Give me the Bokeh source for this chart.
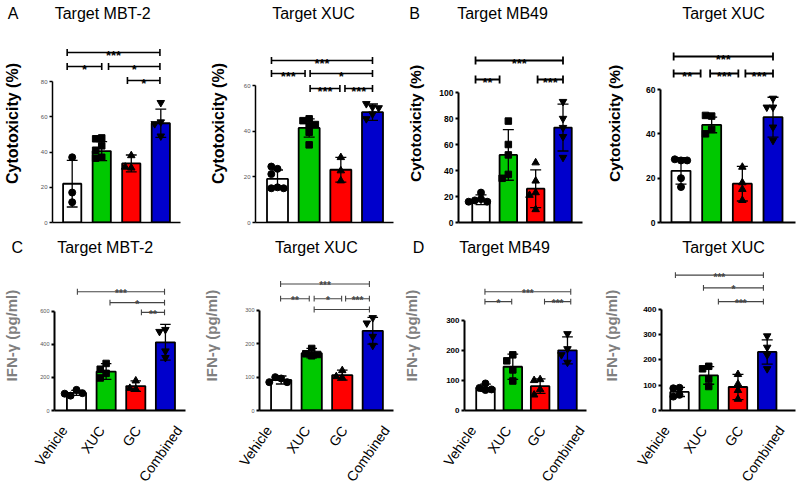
import math
from bokeh.plotting import figure
from bokeh.layouts import column, row
from bokeh.models import Range1d, FixedTicker, Label
from bokeh.embed import file_html
from bokeh.resources import INLINE
from bokeh.core.properties import value

FONT = "Liberation Sans"

groups = ["Vehicle", "XUC", "GC", "Combined"]
bar_colors = ["#ffffff", "#00c800", "#ff0000", "#0000cc"]
markers = ["circle", "square", "triangle", "inverted_triangle"]

# ---------------- data ----------------
# A  Cytotoxicity (%), target MBT-2
a1_mean = [22.0, 40.5, 33.5, 56.3]
a1_sd = [13.2, 5.4, 4.8, 8.0]
a1_pts = [[37, 17, 11.5], [48, 47.5, 43.5, 41, 37, 36.5], [38, 31, 31.5], [68, 57, 56, 49]]
a1_ticks = [0, 20, 40, 60, 80]
# A  Cytotoxicity (%), target XUC
a2_mean = [19.1, 41.4, 23.1, 48.3]
a2_sd = [3.9, 4.0, 5.4, 3.6]
a2_pts = [[23.5, 24.5, 21.2, 15.4, 15, 15], [45.4, 44.6, 42.9, 42.4, 39.5, 34],
          [28.5, 18.3, 22.7], [50.5, 52, 50.2, 47.5, 45.4]]
a2_ticks = [0, 20, 40, 60]
# B  Cytotoxicity (%), target MB49
b1_mean = [17.5, 52.0, 26.0, 73.0]
b1_sd = [3.8, 19.5, 14.5, 18.0]
b1_pts = [[23, 18, 17, 16, 16], [78, 60, 52, 37, 34], [46, 32, 23, 21, 10], [93, 80, 73, 66, 50]]
b1_ticks = [0, 20, 40, 60, 80, 100]
# B  Cytotoxicity (%), target XUC
b2_mean = [23.3, 44.0, 17.5, 47.5]
b2_sd = [6.0, 3.5, 7.8, 9.0]
b2_pts = [[28, 28.5, 28, 20, 16], [48, 48.3, 42, 40], [25, 18, 15, 10], [56, 52, 52, 43, 37]]
b2_ticks = [0, 20, 40, 60]
# C  IFN-γ (pg/ml), target MBT-2
c1_mean = [107, 236, 148, 413]
c1_sd = [15, 48, 32, 108]
c1_pts = [[125, 90, 105, 102], [285, 250, 225, 197], [180, 130, 135], [490, 478, 360, 320]]
c1_ticks = [0, 200, 400, 600]
# C  IFN-γ (pg/ml), target XUC
c2_mean = [91.5, 172, 106, 239]
c2_sd = [12, 14, 15, 40]
c2_pts = [[96, 100, 85, 85], [186, 170, 168, 164], [120, 102, 98], [278, 262, 222, 195]]
c2_ticks = [0, 100, 200, 300]
# D  IFN-γ (pg/ml), target MB49
d1_mean = [75.5, 145.5, 81, 200]
d1_sd = [12, 42, 24, 45]
d1_pts = [[90, 75, 70, 68], [185, 165, 135, 98], [103, 100, 70, 52], [255, 205, 185, 160]]
d1_ticks = [0, 100, 200, 300]
# D  IFN-γ (pg/ml), target XUC
d2_mean = [73.5, 139, 93, 232]
d2_sd = [18, 35, 50, 48]
d2_pts = [[90, 88, 62, 55], [175, 165, 125, 95], [143, 105, 80, 45], [295, 250, 220, 165]]
d2_ticks = [0, 100, 200, 300, 400]

# significance comparisons: (from, to, row, label)  -- from/to in group-position units
a1_sig = [(0.83, 3.97, 0, "***"), (0.83, 2.0, 1, "*"), (2.23, 3.97, 1, "*"), (2.87, 3.97, 2, "*")]
a2_sig = [(0.81, 4.0, 0, "***"), (0.81, 1.87, 1, "***"), (2.03, 4.0, 1, "*"),
          (2.03, 2.97, 2, "***"), (3.13, 4.0, 2, "***")]
b1_sig = [(0.80, 4.0, 0, "***"), (0.80, 1.68, 1, "**"), (3.07, 4.0, 1, "***")]
b2_sig = [(0.76, 4.0, 0, "***"), (0.76, 1.64, 1, "**"), (1.95, 2.87, 1, "***"), (3.10, 4.0, 1, "***")]
c1_sig = [(1.03, 3.97, 0, "***"), (2.13, 3.97, 1, "*"), (3.19, 3.97, 2, "**")]
c2_sig = [(0.98, 3.89, 0, "***"), (0.98, 1.92, 1, "**"), (2.08, 2.98, 1, "*"),
          (3.11, 3.89, 1, "***"), (2.08, 3.89, 2, "")]
d1_sig = [(0.98, 4.12, 0, "***"), (0.98, 1.96, 1, "*"), (3.16, 4.12, 1, "***")]
d2_sig = [(0.86, 3.87, 0, "***"), (1.82, 3.87, 1, "*"), (2.33, 3.87, 2, "***")]

# ---------------- layout (pixel geometry, page coordinates) ----------------
W = 200
TOP_H, BOT_H = 232, 259
HEAD = 24  # room above each plot frame for the heading
LABEL_SHIFT_PX = [-13, -5, 2, 14]  # where the slanted category names sit relative to bar centres
LABEL_ANGLE = 0.96
geo = {
    "a1": dict(left=0, top=0, h=TOP_H, ax=50, xe=180, c1=70, c4=160, zy=222, ty=81, bw=18.5, tx=101, tyy=13, lx=10, rows=[52, 66, 80]),
    "a2": dict(left=200, top=0, h=TOP_H, ax=255, xe=393, c1=277, c4=372, zy=222, ty=85, bw=21, tx=313, tyy=13, lx=None, rows=[60, 73, 88]),
    "b1": dict(left=400, top=0, h=TOP_H, ax=458, xe=582, c1=480.5, c4=562.5, zy=222, ty=92, bw=17.5, tx=502, tyy=13, lx=414, rows=[60, 79]),
    "b2": dict(left=600, top=0, h=TOP_H, ax=660, xe=795, c1=680.5, c4=772.5, zy=222, ty=89, bw=19, tx=723, tyy=13, lx=None, rows=[56, 73]),
    "c1": dict(left=0, top=232, h=BOT_H, ax=48, xe=185, c1=71, c4=164, zy=413, ty=312, bw=20, tx=101, tyy=247, lx=9, rows=[292, 303, 313]),
    "c2": dict(left=200, top=232, h=BOT_H, ax=254, xe=393, c1=276.5, c4=371.5, zy=413, ty=311, bw=21, tx=313, tyy=247, lx=None, rows=[284, 299, 310]),
    "d1": dict(left=400, top=232, h=BOT_H, ax=461, xe=586, c1=482.5, c4=566.5, zy=413, ty=321, bw=19, tx=502, tyy=247, lx=414, rows=[292, 302]),
    "d2": dict(left=600, top=232, h=BOT_H, ax=661, xe=795, c1=679, c4=766.7, zy=413, ty=310, bw=18.5, tx=723, tyy=247, lx=None, rows=[275, 288, 302]),
}

style_A = dict(tick_size="6px", tick_color="#555555", tick_bold=False, ylab_size="16px", ylab_color="black",
               axis_lw=1.5, br_lw=1.6, br_color="black", br_cap=3.5, br_font="13px", br_off=3)
style_B = dict(tick_size="8.5px", tick_color="black", tick_bold=True, ylab_size="15.5px", ylab_color="black",
               axis_lw=2, br_lw=1.8, br_color="black", br_cap=4, br_font="13px", br_off=3)
style_C = dict(tick_size="5.5px", tick_color="#555555", tick_bold=False, ylab_size="15px", ylab_color="#7f7f7f",
               axis_lw=2, br_lw=1.1, br_color="#444444", br_cap=3, br_font="10px", br_off=2)
style_D = dict(tick_size="8px", tick_color="black", tick_bold=True, ylab_size="15px", ylab_color="#7f7f7f",
               axis_lw=2, br_lw=1.1, br_color="#444444", br_cap=3, br_font="10px", br_off=2)

MSIZE = {"circle": 7, "square": 6.5, "triangle": 7.5, "inverted_triangle": 7.5}


def swarm(ys_px, size):
    placed, offs = [], []
    for y in ys_px:
        ox = 0.0
        for k in [0, -1, 1, -2, 2, -3, 3]:
            ox = k * size * 0.95
            if all((ox - px) ** 2 + (y - py) ** 2 >= (size * 0.95) ** 2 for px, py in placed):
                break
        placed.append((ox, y))
        offs.append(ox)
    return offs


def make_panel(title, letter, ylabel, ticks, means, sds, pts, sig, g, st, standoff, bottom):
    sx = (g["c4"] - g["c1"]) / 3.0
    xs0 = 1 - (g["c1"] - g["ax"]) / sx
    xs1 = 4 + (g["xe"] - g["c4"]) / sx
    sy = (g["zy"] - g["ty"]) / ticks[-1]
    ys1 = (g["zy"] - (g["top"] + HEAD)) / sy

    def X(px):
        return xs0 + (px - g["ax"]) / sx

    def Y(py):
        return (g["zy"] - py) / sy

    p = figure(width=W, height=g["h"], x_range=Range1d(xs0, xs1), y_range=Range1d(0, ys1),
               output_backend="svg", toolbar_location=None,
               min_border_left=int(g["ax"] - g["left"]), min_border_right=int(g["left"] + W - g["xe"]),
               min_border_top=HEAD, min_border_bottom=int(g["top"] + g["h"] - g["zy"]))
    p.outline_line_color = None
    p.grid.visible = False
    p.background_fill_color = "white"
    p.border_fill_color = "white"

    xs = [1, 2, 3, 4]
    p.vbar(x=xs, top=means, bottom=0, width=g["bw"] / sx, fill_color=bar_colors,
           line_color="black", line_width=1.8)
    lo = [m - s for m, s in zip(means, sds)]
    hi = [m + s for m, s in zip(means, sds)]
    cap = 5.5 / sx
    p.segment(x0=xs, y0=lo, x1=xs, y1=hi, line_color="black", line_width=1.3)
    p.segment(x0=[x - cap for x in xs], y0=hi, x1=[x + cap for x in xs], y1=hi, line_color="black", line_width=1.3)
    p.segment(x0=[x - cap for x in xs], y0=lo, x1=[x + cap for x in xs], y1=lo, line_color="black", line_width=1.3)

    for i, vals in enumerate(pts):
        mk = markers[i]
        ypx = [g["zy"] - v * sy for v in vals]
        offs = swarm(ypx, 6.5)
        p.scatter(x=[xs[i] + o / sx for o in offs], y=vals, marker=mk, size=MSIZE[mk],
                  fill_color="black", line_color="black")

    for a, b, r, lab in sig:
        ry = g["rows"][r]
        p.segment(x0=[a], y0=[Y(ry)], x1=[b], y1=[Y(ry)], line_color=st["br_color"], line_width=st["br_lw"])
        p.segment(x0=[a, b], y0=[Y(ry - st["br_cap"])] * 2, x1=[a, b], y1=[Y(ry + st["br_cap"])] * 2,
                  line_color=st["br_color"], line_width=st["br_lw"])
        if lab:
            p.text(x=[(a + b) / 2], y=[Y(ry + st["br_off"])], text=[lab], text_font=value(FONT),
                   text_font_size=st["br_font"], text_font_style="bold", text_color=st["br_color"],
                   text_align="center", text_baseline="alphabetic")

    p.add_layout(Label(x=X(g["tx"]), y=Y(g["tyy"]), text=title, text_font=FONT, text_font_size="16px",
                       text_align="center", text_baseline="middle", text_color="black"), "above")
    if letter:
        p.add_layout(Label(x=X(g["lx"]), y=Y(g["tyy"]), text=letter, text_font=FONT, text_font_size="16px",
                           text_align="center", text_baseline="middle", text_color="black"), "right")

    xa = p.xaxis[0]
    xa.axis_line_width = st["axis_lw"]
    xa.axis_line_color = "black"
    xa.major_tick_line_color = None
    xa.minor_tick_line_color = None
    if bottom:
        label_pos = [round(x + d / sx, 4) for x, d in zip(xs, LABEL_SHIFT_PX)]
        xa.ticker = FixedTicker(ticks=label_pos)
        xa.major_label_overrides = {pos: name for pos, name in zip(label_pos, groups)}
        xa.major_label_orientation = LABEL_ANGLE
        xa.major_label_text_font_size = "14px"
        xa.major_label_text_font = FONT
        xa.major_label_text_color = "black"
        xa.major_label_standoff = 11
    else:
        xa.ticker = FixedTicker(ticks=[])
        xa.major_label_standoff = 0

    ya = p.yaxis[0]
    ya.ticker = FixedTicker(ticks=ticks)
    ya.bounds = (0, ticks[-1])
    ya.axis_line_width = st["axis_lw"]
    ya.axis_line_color = "black"
    ya.major_tick_line_color = "black"
    ya.major_tick_line_width = st["axis_lw"]
    ya.major_tick_out = 3
    ya.major_tick_in = 0
    ya.minor_tick_line_color = None
    ya.major_label_standoff = 2
    ya.major_label_text_font = FONT
    ya.major_label_text_font_size = st["tick_size"]
    ya.major_label_text_color = st["tick_color"]
    ya.major_label_text_font_style = "bold" if st["tick_bold"] else "normal"
    ya.axis_label = ylabel
    ya.axis_label_text_font = FONT
    ya.axis_label_text_font_size = st["ylab_size"]
    ya.axis_label_text_font_style = "bold"
    ya.axis_label_text_color = st["ylab_color"]
    ya.axis_label_standoff = standoff
    return p


CYTO = "Cytotoxicity (%)"
IFN = "IFN-γ  (pg/ml)"

pa1 = make_panel("Target MBT-2", "A", CYTO, a1_ticks, a1_mean, a1_sd, a1_pts, a1_sig, geo["a1"], style_A, 17, False)
pa2 = make_panel("Target XUC", None, CYTO, a2_ticks, a2_mean, a2_sd, a2_pts, a2_sig, geo["a2"], style_A, 14, False)
pb1 = make_panel("Target MB49", "B", CYTO, b1_ticks, b1_mean, b1_sd, b1_pts, b1_sig, geo["b1"], style_B, 12, False)
pb2 = make_panel("Target XUC", None, CYTO, b2_ticks, b2_mean, b2_sd, b2_pts, b2_sig, geo["b2"], style_B, 20, False)
pc1 = make_panel("Target MBT-2", "C", IFN, c1_ticks, c1_mean, c1_sd, c1_pts, c1_sig, geo["c1"], style_C, 17, True)
pc2 = make_panel("Target XUC", None, IFN, c2_ticks, c2_mean, c2_sd, c2_pts, c2_sig, geo["c2"], style_C, 22, True)
pd1 = make_panel("Target MB49", "D", IFN, d1_ticks, d1_mean, d1_sd, d1_pts, d1_sig, geo["d1"], style_D, 23, True)
pd2 = make_panel("Target XUC", None, IFN, d2_ticks, d2_mean, d2_sd, d2_pts, d2_sig, geo["d2"], style_D, 20, True)

layout = column(row(pa1, pa2, pb1, pb2), row(pc1, pc2, pd1, pd2))

with open("out.html", "w") as f:
    f.write(file_html(layout, INLINE))
